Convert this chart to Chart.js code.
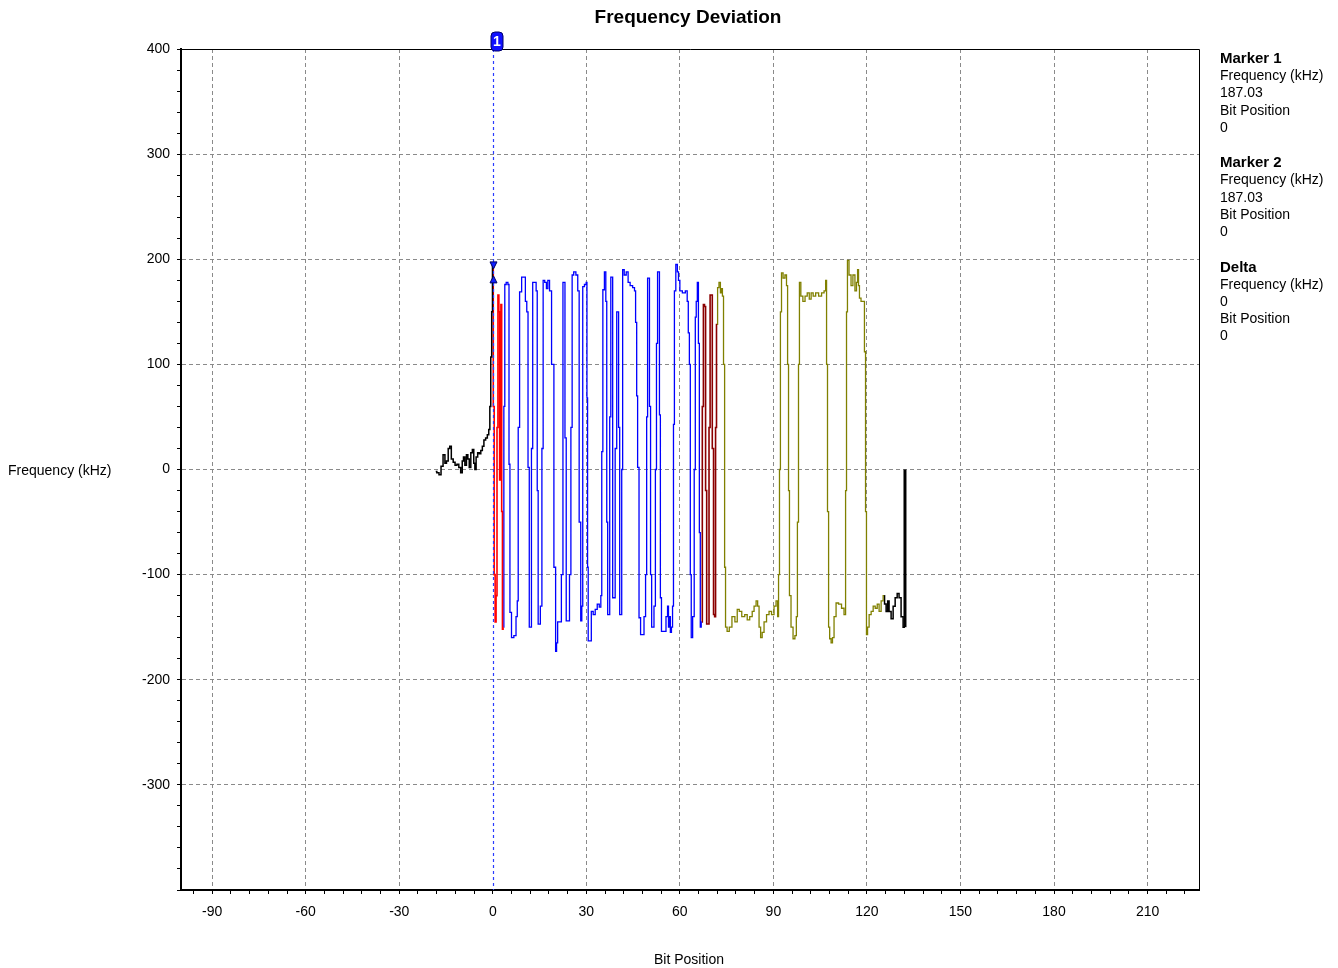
<!DOCTYPE html>
<html>
<head>
<meta charset="utf-8">
<title>Frequency Deviation</title>
<script src="https://cdn.jsdelivr.net/npm/chart.js@4.4.1/dist/chart.umd.min.js"></script>
<style>
  html, body { margin: 0; padding: 0; background: #fff; }
  canvas { display: block; }
</style>
</head>
<body>
<canvas id="devChart" width="1338" height="968"></canvas>
<script>
// [bit position, frequency kHz], one array per coloured section
const preamble = [
  [-18.3, -2], [-17.6, -3], [-16.9, -5], [-16.3, 3], [-15.6, 14], [-15.1, 6], [-14.6, 8],
  [-14.0, 20], [-13.6, 22], [-13.0, 10], [-12.4, 7], [-11.8, 4], [-11.2, 5], [-10.6, 2],
  [-10.0, -3], [-9.6, 8], [-9.2, 12], [-8.7, 4], [-8.2, 14], [-7.8, 10], [-7.3, 2],
  [-6.8, 16], [-6.3, 19], [-5.9, 6], [-5.6, 0], [-5.1, 12], [-4.6, 16], [-4.1, 15],
  [-3.6, 18], [-3.1, 22], [-2.6, 28], [-2.0, 30], [-1.5, 33], [-1.1, 38], [-0.8, 60],
  [-0.5, 107], [-0.2, 150], [0, 195]
];

const sync = [
  [0, 195], [0.3, 60], [0.6, -100], [0.9, -145], [1.2, -120], [1.5, 40], [1.8, 166],
  [2.1, 150], [2.3, -10], [2.5, 30], [2.7, 157], [3.0, -40], [3.2, -152], [3.4, -150]
];

const payload = [
  [3.4, -150], [3.7, 60], [4.0, 176], [4.6, 178], [5.1, 176], [5.3, 5], [5.7, -136],
  [6.3, -160], [7.2, -158], [7.7, -140], [8.0, -125], [8.3, 40], [8.9, 169], [9.6, 183],
  [10.2, 183], [10.7, 160], [11.1, 150], [11.5, 2], [11.9, -150], [12.2, -150], [12.6, 20],
  [13.0, 178], [13.7, 178], [14.1, 170], [14.4, -20], [14.7, -147], [15.0, -147],
  [15.5, -130], [16.0, 20], [16.3, 180], [17.0, 178], [17.4, 172], [17.9, 180], [18.5, 170],
  [19.2, 100], [20.0, -93], [20.3, -173], [20.6, -165], [21.0, -145], [21.7, -145],
  [22.3, -100], [22.7, 178], [23.0, 178], [23.3, 30], [23.8, -144], [24.3, -144],
  [24.9, -100], [25.2, 40], [25.7, 185], [26.2, 188], [27.1, 185], [27.4, 170], [28.0, -50],
  [28.4, -144], [28.7, -130], [29.0, 174], [29.8, 176], [30.1, 178], [30.3, 68], [30.5, -93],
  [30.7, -163], [31.3, -163], [31.9, -135], [32.5, -138], [33.2, -133], [33.8, -128],
  [34.5, -131], [34.8, -120], [35.1, 17], [35.5, 171], [36.1, 188], [36.4, 160], [36.7, -50],
  [37.0, -138], [37.3, -138], [37.7, 50], [38.0, 183], [38.3, 183], [38.6, -122],
  [38.9, -122], [39.6, 20], [39.9, 150], [40.2, 150], [40.5, 40], [40.9, -138], [41.2, -138],
  [41.5, 0], [41.8, 190], [42.5, 185], [43.1, 188], [43.7, 178], [44.4, 175], [45.3, 173],
  [45.6, 170], [46.0, 140], [46.3, 70], [46.6, 2], [47.2, -141], [47.6, -157], [48.2, -157],
  [48.8, -140], [49.2, -100], [49.5, 50], [49.8, 182], [50.1, 182], [50.4, 60], [50.8, -100],
  [51.1, -150], [51.4, -150], [52.0, -130], [52.3, 0], [52.7, 120], [53.0, 188], [53.3, 188],
  [53.6, 52], [53.9, -122], [54.3, -154], [55.2, -154], [55.9, -140], [56.2, -130],
  [56.5, -150], [56.8, -140], [57.1, -155], [57.5, -150], [57.8, -130], [58.1, 43],
  [58.4, 170], [59.0, 195], [59.4, 188], [59.7, 180], [60.3, 170], [61.3, 168], [62.2, 170],
  [62.5, 160], [62.9, 130], [63.2, 100], [63.5, -100], [63.8, -160], [64.4, -140], [64.8, 0],
  [65.1, 145], [65.4, 160], [65.8, 178], [66.1, 120], [66.4, -60], [66.7, -150], [67.0, -145]
];

const crc = [
  [67.0, -145], [67.4, 60], [67.7, 157], [68.1, 155], [68.4, -20], [68.8, -147],
  [69.2, -147], [69.5, 40], [69.9, 166], [70.2, 166], [70.6, 20], [71.0, -138],
  [71.3, -140], [71.6, 40], [71.9, 138]
];

const tail = [
  [71.9, 138], [72.3, 173], [72.8, 178], [73.2, 168], [73.5, 172], [73.8, 165], [74.2, 100],
  [74.5, -93], [74.8, -150], [75.5, -154], [76.2, -150], [77.2, -140], [78.1, -145],
  [78.7, -133], [79.4, -135], [80.3, -140], [81.3, -138], [81.9, -143], [82.9, -140],
  [83.5, -135], [84.1, -130], [84.8, -125], [85.1, -130], [85.7, -150], [86.1, -160],
  [86.7, -155], [87.3, -145], [88.3, -138], [88.9, -135], [89.9, -138], [90.5, -130],
  [91.2, -125], [91.5, -140], [91.8, -100], [92.1, 0], [92.4, 150], [92.8, 187], [93.4, 182],
  [94.0, 185], [94.4, 175], [94.7, 100], [95.0, -20], [95.3, -120], [96.0, -150],
  [96.6, -161], [97.2, -158], [97.5, -140], [97.9, -50], [98.2, 100], [98.5, 178],
  [99.1, 165], [99.8, 160], [100.5, 165], [101.2, 168], [101.8, 162], [102.4, 168],
  [103.1, 165], [104.0, 168], [105.0, 165], [105.9, 168], [106.6, 170], [106.9, 180],
  [107.2, 100], [107.5, -40], [107.9, -150], [108.2, -161], [108.8, -165], [109.1, -160],
  [109.8, -140], [110.4, -127], [111.4, -128], [112.3, -132], [113.0, -138], [113.3, -20],
  [113.6, 150], [113.9, 199], [114.6, 185], [115.2, 175], [115.8, 185], [116.5, 170],
  [116.8, 178], [117.2, 190], [117.4, 175], [117.8, 163], [118.4, 160], [119.0, 160],
  [119.4, 112], [119.7, -40], [120.0, -157], [120.4, -150], [121.0, -138], [121.7, -135],
  [122.3, -130], [123.0, -132], [123.6, -128], [124.2, -135], [124.9, -125], [125.5, -120]
];

const ending = [
  [125.5, -120], [125.8, -128], [126.5, -135], [126.8, -125], [127.4, -135], [128.1, -142],
  [128.7, -130], [129.4, -122], [130.0, -118], [130.6, -122], [131.3, -140], [131.9, -150],
  [132.2, -150]
];

const endStep = [[132.2, -150], [132.2, 0]];

const xTickLabels = [-90, -60, -30, 0, 30, 60, 90, 120, 150, 180, 210];
const yTickLabels = [400, 300, 200, 100, 0, -100, -200, -300];

const markerBit = 0;
const markerFreq = 187.03;
const sidePanel = [
  ["Marker 1", true], ["Frequency (kHz)", false], ["187.03", false], ["Bit Position", false], ["0", false],
  ["Marker 2", true], ["Frequency (kHz)", false], ["187.03", false], ["Bit Position", false], ["0", false],
  ["Delta", true], ["Frequency (kHz)", false], ["0", false], ["Bit Position", false], ["0", false]
];

const FONT = '"Liberation Sans", Arial, sans-serif';
Chart.defaults.font.family = FONT;
Chart.defaults.font.size = 14;
Chart.defaults.color = "#000";

function trace(data, color, width, stepped) {
  return {
    data: data,
    borderColor: color,
    borderWidth: width,
    pointRadius: 0,
    tension: 0,
    stepped: stepped,
    fill: false
  };
}

const decor = {
  id: "decor",
  afterDatasetsDraw(chart) {
    const { ctx, chartArea: a, scales: { x, y } } = chart;
    ctx.save();

    // thin top / right frame
    ctx.strokeStyle = "#000";
    ctx.lineWidth = 1;
    ctx.beginPath();
    ctx.moveTo(a.left, a.top + 0.5);
    ctx.lineTo(a.right + 0.5, a.top + 0.5);
    ctx.lineTo(a.right + 0.5, a.bottom);
    ctx.stroke();

    // marker line
    const mx = Math.round(x.getPixelForValue(markerBit)) + 0.5;
    ctx.strokeStyle = "#2a3cff";
    ctx.lineWidth = 1.2;
    ctx.setLineDash([3, 3]);
    ctx.beginPath();
    ctx.moveTo(mx, a.top);
    ctx.lineTo(mx, a.bottom);
    ctx.stroke();
    ctx.setLineDash([]);
    ctx.lineWidth = 1;

    // marker glyph on the trace
    const my = y.getPixelForValue(markerFreq);
    ctx.fillStyle = "#1020ff";
    ctx.strokeStyle = "#000060";
    ctx.beginPath();
    ctx.moveTo(mx - 3.5, my - 11);
    ctx.lineTo(mx + 3.5, my - 11);
    ctx.lineTo(mx, my - 4);
    ctx.closePath();
    ctx.fill();
    ctx.stroke();
    ctx.beginPath();
    ctx.moveTo(mx - 3.5, my + 10);
    ctx.lineTo(mx + 3.5, my + 10);
    ctx.lineTo(mx, my + 3);
    ctx.closePath();
    ctx.fill();
    ctx.stroke();

    // marker tag above the plot
    const bx = mx - 2.5, by = a.top - 17, bw = 12, bh = 19;
    ctx.fillStyle = "#1010ff";
    ctx.strokeStyle = "#00006a";
    ctx.beginPath();
    ctx.roundRect(bx, by, bw, bh, 4);
    ctx.fill();
    ctx.stroke();
    ctx.fillStyle = "#fff";
    ctx.font = "bold 14px " + FONT;
    ctx.textAlign = "center";
    ctx.textBaseline = "middle";
    ctx.fillText("1", bx + bw / 2, by + bh / 2 + 1);

    ctx.restore();
  },
  afterDraw(chart) {
    const ctx = chart.ctx;
    ctx.save();
    ctx.fillStyle = "#000";
    ctx.textBaseline = "middle";

    ctx.font = "bold 19px " + FONT;
    ctx.textAlign = "center";
    ctx.fillText("Frequency Deviation", 688, 18);

    ctx.font = "14px " + FONT;
    ctx.fillText("Bit Position", 689, 960);
    ctx.textAlign = "left";
    ctx.fillText("Frequency (kHz)", 8, 471);

    let ty = 58;
    sidePanel.forEach(function (row, i) {
      ctx.font = (row[1] ? "bold 15px " : "14px ") + FONT;
      ctx.fillText(row[0], 1220, ty + 1);
      ty += (i % 5 === 4) ? 35 : 17.3;
    });
    ctx.restore();
  }
};

new Chart(document.getElementById("devChart"), {
  type: "line",
  data: {
    datasets: [
      trace(preamble, "#000000", 1.5, "middle"),
      trace(sync, "#ff0000", 1.6, "middle"),
      trace(payload, "#0000ff", 1.3, "middle"),
      trace(crc, "#8b0000", 1.6, "middle"),
      trace(tail, "#808000", 1.3, "middle"),
      trace(ending, "#000000", 1.5, "middle"),
      trace(endStep, "#000000", 3, false)
    ]
  },
  options: {
    responsive: false,
    animation: false,
    events: [],
    layout: { padding: { top: 49, right: 139, left: 0, bottom: 0 } },
    plugins: {
      legend: { display: false },
      tooltip: { enabled: false }
    },
    scales: {
      x: {
        type: "linear",
        min: -100,
        max: 226.5,
        afterFit(scale) { scale.height = 78; },
        border: { color: "#000", width: 2, dash: [4, 3] },
        grid: {
          color: (c) => (c.tick && c.tick.value !== 0 && xTickLabels.includes(c.tick.value)) ? "#8a8a8a" : "transparent",
          tickColor: "#000",
          tickLength: 4,
          tickWidth: 1
        },
        ticks: {
          stepSize: 6,
          includeBounds: false,
          autoSkip: false,
          maxRotation: 0,
          padding: 10,
          color: "#000",
          callback: (v) => xTickLabels.includes(v) ? String(v) : ""
        }
      },
      y: {
        type: "linear",
        min: -400,
        max: 400,
        afterFit(scale) { scale.width = 181; },
        border: { color: "#000", width: 2, dash: [4, 3] },
        grid: {
          color: (c) => (c.tick && Math.abs(c.tick.value) !== 400 && c.tick.value % 100 === 0) ? "#8a8a8a" : "transparent",
          tickColor: "#000",
          tickLength: 4,
          tickWidth: 1
        },
        ticks: {
          stepSize: 20,
          autoSkip: false,
          padding: 7,
          color: "#000",
          callback: (v) => yTickLabels.includes(v) ? String(v) : ""
        }
      }
    }
  },
  plugins: [decor]
});
</script>
</body>
</html>
